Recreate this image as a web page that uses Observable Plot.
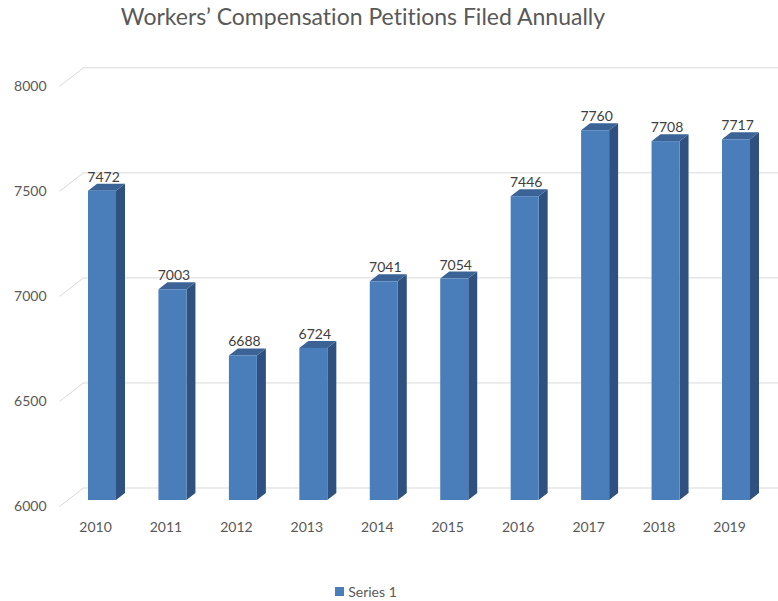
<!DOCTYPE html>
<html>
<head>
<meta charset="utf-8">
<script src="https://cdn.jsdelivr.net/npm/d3@7"></script>
<script src="https://cdn.jsdelivr.net/npm/@observablehq/plot@0.6"></script>
<style>
  body { margin: 0; background: #fff; }
  #wrap { position: relative; width: 778px; height: 601px; font-family: Lato, "Open Sans", sans-serif; font-variant-ligatures: none; }
  #title { position: absolute; left: 0; top: 2px; width: 726px; text-align: center; font-size: 23px; color: #595959; font-variant-ligatures: none; }
  #chart { position: absolute; left: 0; top: 40px; }
  #legend { position: absolute; left: 0; top: 582px; width: 732px; height: 18px; display: flex; justify-content: center; align-items: center; font-size: 14px; color: #595959; }
  #legend .sw { display: inline-block; width: 9px; height: 9px; background: #4a7ebb; margin-right: 4px; }
</style>
</head>
<body>
<div id="wrap">
  <div id="title">Workers’ Compensation Petitions Filed Annually</div>
  <div id="chart"></div>
  <div id="legend"><span class="sw"></span><span>Series 1</span></div>
</div>
<script>
// ---- data ----
const years = [2010, 2011, 2012, 2013, 2014, 2015, 2016, 2017, 2018, 2019];
const values = [7472, 7003, 6688, 6724, 7041, 7054, 7446, 7760, 7708, 7717];
const yTicks = [6000, 6500, 7000, 7500, 8000];
const baseValue = 6000;

// ---- geometry (pixel styling, converted through scale factors) ----
const xRange = [102, 736];          // pixel centres of first/last bar
const yRange = [460, 39.8];         // bar front-plane pixels for 6000 / 8000
const pxPerYear = (xRange[1] - xRange[0]) / (years[years.length - 1] - years[0]);
const pxPerUnit = (yRange[0] - yRange[1]) / (yTicks[yTicks.length - 1] - yTicks[0]);
const hw = 14 / pxPerYear;          // half bar width
const ddx = 9 / pxPerYear;          // bar depth (x)
const ddy = 7 / pxPerUnit;          // bar depth (y)
const wallDy = -12.5;               // back wall offset (px)
const frontDy = 6;                  // front plane offset (px)

const bars = years.map((y, i) => ({year: y, value: values[i]}));
const sideFaces = bars.flatMap(d => [
  {id: d.year, x: d.year + hw, y1: baseValue, y2: d.value},
  {id: d.year, x: d.year + hw + ddx, y1: baseValue + ddy, y2: d.value + ddy}
]);
const topFaces = bars.flatMap(d => [
  {id: d.year, y: d.value, x1: d.year - hw, x2: d.year + hw},
  {id: d.year, y: d.value + ddy, x1: d.year - hw + ddx, x2: d.year + hw + ddx}
]);
const diagFrontX = years[0] - (102 - 59) / pxPerYear;
const diagBackX = years[0] - (102 - 83) / pxPerYear;
const diag = yTicks.map(t => ({x1: diagFrontX, x2: diagBackX, y1: t - frontDy / pxPerUnit, y2: t - wallDy / pxPerUnit}));

const chart = Plot.plot({
  width: 778,
  height: 520,
  marginLeft: 83,
  marginRight: 0,
  marginTop: 0,
  marginBottom: 0,
  style: {fontFamily: "Lato, 'Open Sans', sans-serif", background: "#fff", overflow: "visible"},
  x: {type: "linear", domain: [years[0], years[years.length - 1]], range: xRange, axis: null},
  y: {type: "linear", domain: [yTicks[0], yTicks[yTicks.length - 1]], range: yRange, axis: null},
  marks: [
    Plot.ruleY(yTicks, {y: d => d, dy: wallDy, stroke: "#d9d9d9", strokeWidth: 1}),
    Plot.link(diag, {x1: "x1", x2: "x2", y1: "y1", y2: "y2", stroke: "#d9d9d9", strokeWidth: 1}),
    Plot.text(yTicks, {y: d => d, frameAnchor: "left", dx: -37, dy: frontDy, textAnchor: "end", text: d => String(d), fontSize: 14, fill: "#595959"}),
    Plot.areaY(sideFaces, {x: "x", y1: "y1", y2: "y2", z: "id", fill: "#2f5180", curve: "linear"}),
    Plot.areaX(topFaces, {y: "y", x1: "x1", x2: "x2", z: "id", fill: "#3b6396", curve: "linear"}),
    Plot.rect(bars, {x1: d => d.year - hw, x2: d => d.year + hw, y1: baseValue, y2: "value", fill: "#4a7ebb"}),
    Plot.text(bars, {x: "year", y: "value", text: d => String(d.value), dx: 1, dy: -14, fontSize: 14, fill: "#404040"}),
    Plot.text(years, {x: d => d, y: baseValue, text: d => String(d), dx: -7, dy: 27, fontSize: 14, fill: "#595959"})
  ]
});
document.getElementById("chart").appendChild(chart);
</script>
</body>
</html>
